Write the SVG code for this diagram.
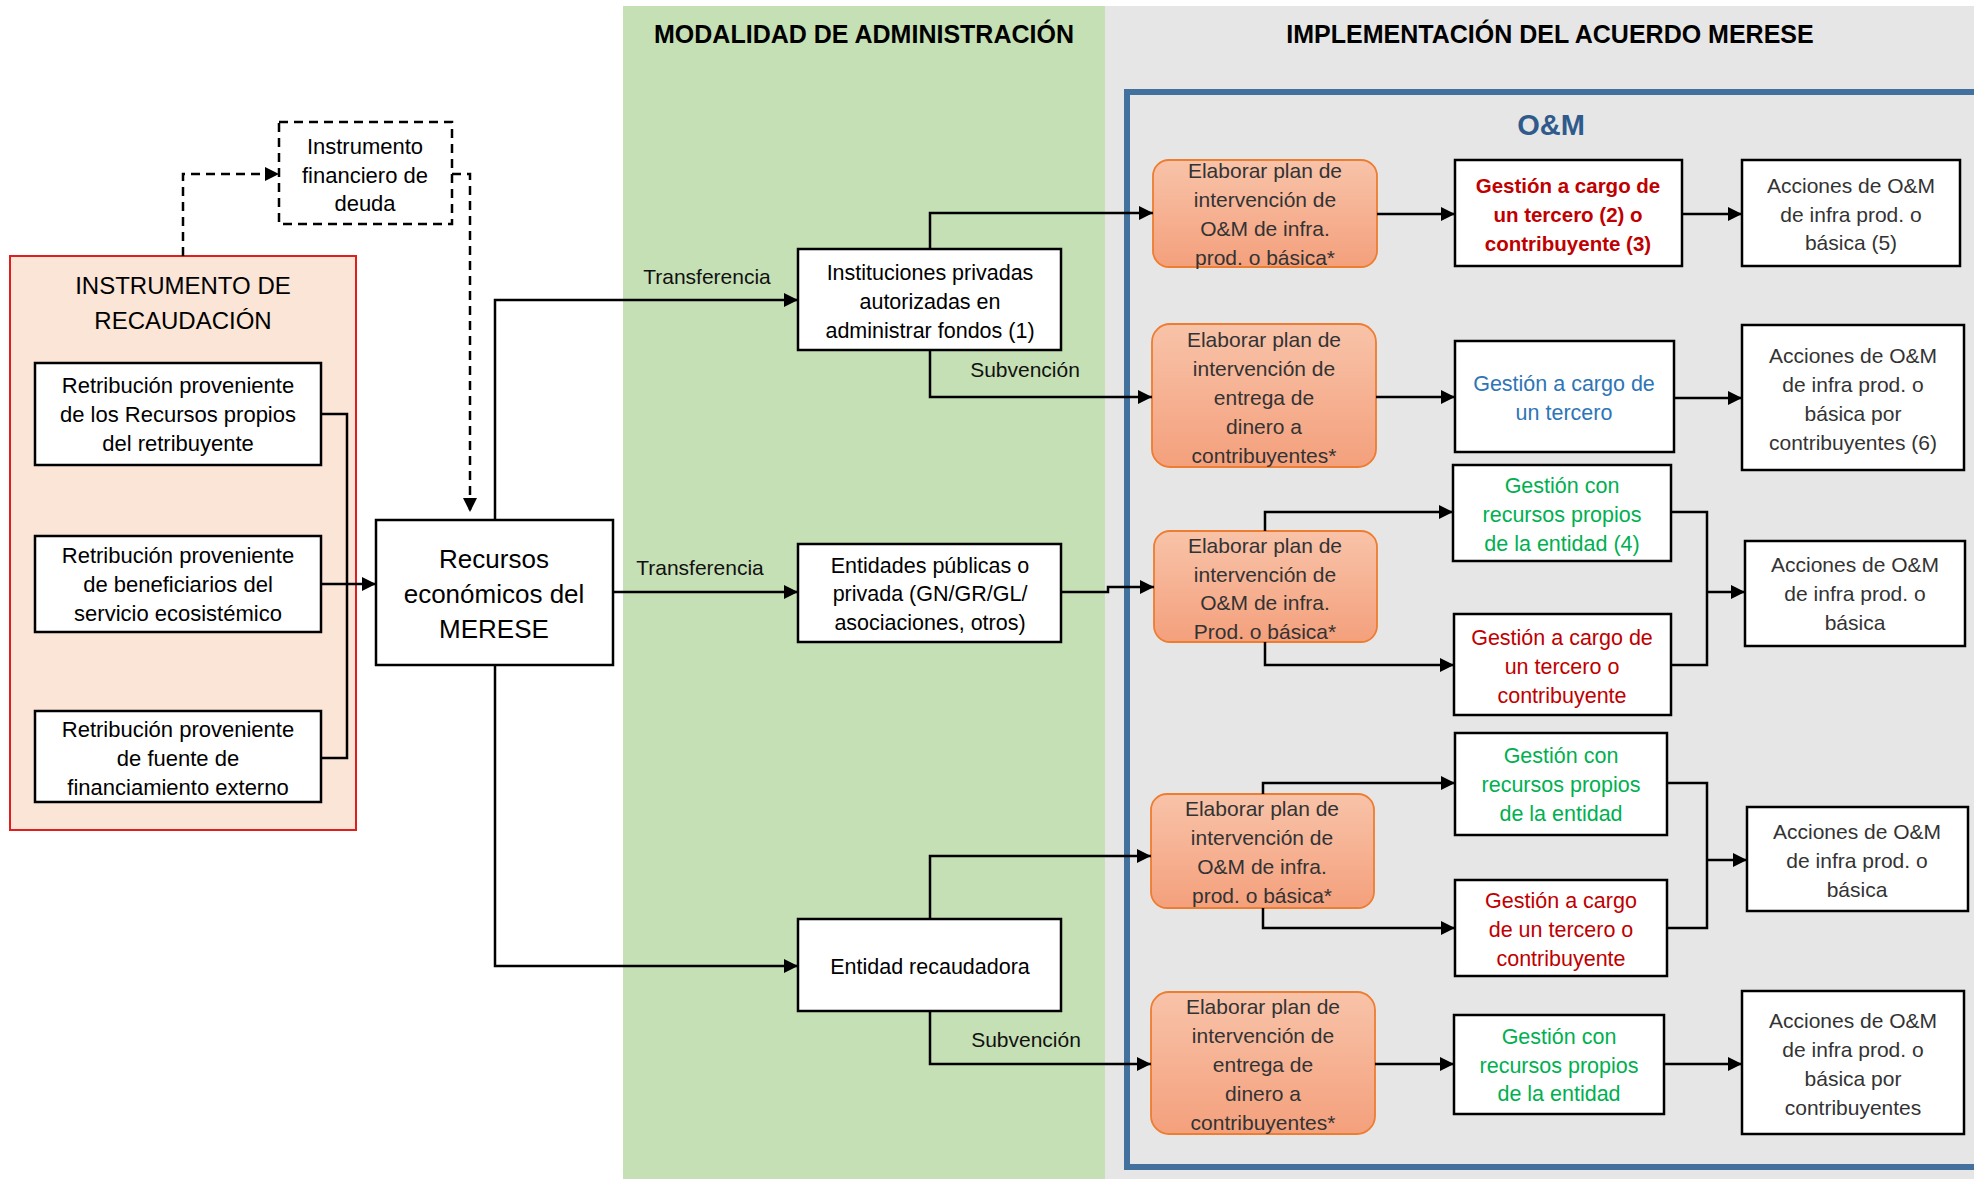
<svg xmlns="http://www.w3.org/2000/svg" width="1974" height="1179" viewBox="0 0 1974 1179">
<defs>
<linearGradient id="og" x1="0" y1="0" x2="0" y2="1">
<stop offset="0" stop-color="#F8C3A9"/>
<stop offset="1" stop-color="#F4A07C"/>
</linearGradient>
<marker id="ah" markerUnits="userSpaceOnUse" markerWidth="14" markerHeight="14" viewBox="0 0 14 14" refX="14" refY="7" orient="auto">
<path d="M0,0 L14,7 L0,14 z" fill="#000"/>
</marker>
</defs>
<style>
text{font-family:"Liberation Sans",Arial,sans-serif;text-anchor:middle;fill:#000}
.box{fill:#fff;stroke:#000;stroke-width:2.5}
.ob{fill:url(#og);stroke:#ED7D31;stroke-width:1.8}
.t22{font-size:22px}
.t21{font-size:21.5px}
.lt{font-size:21px;fill:#333}
.lbl{font-size:21px;fill:#111}
.hdr{font-size:25px;font-weight:bold}
.red{fill:#C00000}
.redb{fill:#C00000;font-weight:bold}
.blue{fill:#2E75B6}
.green{fill:#00B050}
.conn path{fill:none;stroke:#000;stroke-width:2.5}
.arr{marker-end:url(#ah)}
.dash{stroke-dasharray:9,6}
</style>
<rect x="0" y="0" width="1974" height="1179" fill="#fff"/>
<rect id="bg-modalidad" x="623" y="6" width="482" height="1173" fill="#C5E0B4"/>
<rect id="bg-impl" x="1105" y="6" width="869" height="1173" fill="#E7E6E6"/>
<text class="hdr" x="864" y="43">MODALIDAD DE ADMINISTRACIÓN</text>
<text class="hdr" x="1550" y="43">IMPLEMENTACIÓN DEL ACUERDO MERESE</text>
<g id="om-frame">
<rect x="1127" y="92" width="900" height="1075" fill="none" stroke="#41719C" stroke-width="6"/>
<text x="1551" y="135" font-size="29" font-weight="bold" fill="#2F5B8C" style="fill:#2F5B8C">O&amp;M</text>
</g>
<g id="instrumento-recaudacion">
<rect x="10" y="256" width="346" height="574" fill="#FBE5D6" stroke="#E01E1E" stroke-width="2"/>
<text x="183" y="294" font-size="24">INSTRUMENTO DE</text>
<text x="183" y="329" font-size="24">RECAUDACIÓN</text>
</g>
<g id="retrib-propios">
<rect class="box" x="35" y="363" width="286" height="102"/>
<text class="t22" x="178"><tspan x="178" y="393">Retribución proveniente</tspan><tspan x="178" y="422">de los Recursos  propios</tspan><tspan x="178" y="451">del retribuyente</tspan></text>
</g>
<g id="retrib-beneficiarios">
<rect class="box" x="35" y="536" width="286" height="96"/>
<text class="t22" x="178"><tspan x="178" y="563">Retribución proveniente</tspan><tspan x="178" y="592">de beneficiarios del</tspan><tspan x="178" y="621">servicio ecosistémico</tspan></text>
</g>
<g id="retrib-externo">
<rect class="box" x="35" y="711" width="286" height="91"/>
<text class="t22" x="178"><tspan x="178" y="737">Retribución proveniente</tspan><tspan x="178" y="766">de fuente de</tspan><tspan x="178" y="795">financiamiento externo</tspan></text>
</g>
<g id="instrumento-deuda">
<rect x="279" y="122" width="173" height="102" fill="#fff" stroke="#000" stroke-width="2.5" stroke-dasharray="9,6"/>
<text class="t22" x="365"><tspan x="365" y="154">Instrumento</tspan><tspan x="365" y="183">financiero de</tspan><tspan x="365" y="211">deuda</tspan></text>
</g>
<g id="recursos-merese">
<rect class="box" x="376" y="520" width="237" height="145"/>
<text font-size="26" x="494"><tspan x="494" y="568">Recursos</tspan><tspan x="494" y="603">económicos del</tspan><tspan x="494" y="638">MERESE</tspan></text>
</g>
<g id="instituciones-privadas">
<rect class="box" x="798" y="249" width="263" height="101"/>
<text class="t21" x="930"><tspan x="930" y="280">Instituciones privadas</tspan><tspan x="930" y="309">autorizadas en</tspan><tspan x="930" y="338">administrar fondos (1)</tspan></text>
</g>
<g id="entidades-publicas">
<rect class="box" x="798" y="544" width="263" height="98"/>
<text class="t21" x="930"><tspan x="930" y="573">Entidades públicas o</tspan><tspan x="930" y="601">privada (GN/GR/GL/</tspan><tspan x="930" y="630">asociaciones, otros)</tspan></text>
</g>
<g id="entidad-recaudadora">
<rect class="box" x="798" y="919" width="263" height="92"/>
<text class="t21" x="930" y="974">Entidad recaudadora</text>
</g>
<g id="plan-1">
<rect class="ob" x="1153" y="160" width="224" height="107" rx="16"/>
<text class="lt" x="1265"><tspan x="1265" y="178">Elaborar plan de</tspan><tspan x="1265" y="207">intervención de</tspan><tspan x="1265" y="236">O&amp;M de infra.</tspan><tspan x="1265" y="265">prod. o básica*</tspan></text>
</g>
<g id="plan-2">
<rect class="ob" x="1152" y="324" width="224" height="143" rx="18"/>
<text class="lt" x="1264"><tspan x="1264" y="347">Elaborar plan de</tspan><tspan x="1264" y="376">intervención de</tspan><tspan x="1264" y="405">entrega de</tspan><tspan x="1264" y="434">dinero a</tspan><tspan x="1264" y="463">contribuyentes*</tspan></text>
</g>
<g id="plan-3">
<rect class="ob" x="1154" y="531" width="223" height="111" rx="16"/>
<text class="lt" x="1265"><tspan x="1265" y="553">Elaborar plan de</tspan><tspan x="1265" y="582">intervención  de</tspan><tspan x="1265" y="610">O&amp;M de infra.</tspan><tspan x="1265" y="639">Prod. o básica*</tspan></text>
</g>
<g id="plan-4">
<rect class="ob" x="1151" y="794" width="223" height="114" rx="16"/>
<text class="lt" x="1262"><tspan x="1262" y="816">Elaborar plan de</tspan><tspan x="1262" y="845">intervención de</tspan><tspan x="1262" y="874">O&amp;M de infra.</tspan><tspan x="1262" y="903">prod. o básica*</tspan></text>
</g>
<g id="plan-5">
<rect class="ob" x="1151" y="992" width="224" height="142" rx="18"/>
<text class="lt" x="1263"><tspan x="1263" y="1014">Elaborar plan de</tspan><tspan x="1263" y="1043">intervención de</tspan><tspan x="1263" y="1072">entrega de</tspan><tspan x="1263" y="1101">dinero a</tspan><tspan x="1263" y="1130">contribuyentes*</tspan></text>
</g>
<g id="gestion-1">
<rect class="box" x="1455" y="160" width="227" height="106"/>
<text class="t21 redb" font-size="20.5" x="1568" style="font-size:20.5px"><tspan x="1568" y="193">Gestión a cargo de</tspan><tspan x="1568" y="222">un tercero (2) o</tspan><tspan x="1568" y="251">contribuyente (3)</tspan></text>
</g>
<g id="gestion-2">
<rect class="box" x="1455" y="341" width="219" height="111"/>
<text class="t21 blue" x="1564"><tspan x="1564" y="391">Gestión a cargo de</tspan><tspan x="1564" y="420">un tercero</tspan></text>
</g>
<g id="gestion-3">
<rect class="box" x="1453" y="465" width="218" height="96"/>
<text class="t21 green" x="1562"><tspan x="1562" y="493">Gestión con</tspan><tspan x="1562" y="522">recursos propios</tspan><tspan x="1562" y="551">de la entidad (4)</tspan></text>
</g>
<g id="gestion-4">
<rect class="box" x="1454" y="614" width="217" height="101"/>
<text class="t21 red" x="1562"><tspan x="1562" y="645">Gestión a cargo de</tspan><tspan x="1562" y="674">un tercero o</tspan><tspan x="1562" y="703">contribuyente</tspan></text>
</g>
<g id="gestion-5">
<rect class="box" x="1455" y="733" width="212" height="102"/>
<text class="t21 green" x="1561"><tspan x="1561" y="763">Gestión con</tspan><tspan x="1561" y="792">recursos propios</tspan><tspan x="1561" y="821">de la entidad</tspan></text>
</g>
<g id="gestion-6">
<rect class="box" x="1455" y="880" width="212" height="96"/>
<text class="t21 red" x="1561"><tspan x="1561" y="908">Gestión a cargo</tspan><tspan x="1561" y="937">de un tercero o</tspan><tspan x="1561" y="966">contribuyente</tspan></text>
</g>
<g id="gestion-7">
<rect class="box" x="1454" y="1015" width="210" height="99"/>
<text class="t21 green" x="1559"><tspan x="1559" y="1044">Gestión con</tspan><tspan x="1559" y="1073">recursos propios</tspan><tspan x="1559" y="1101">de la entidad</tspan></text>
</g>
<g id="acciones-1">
<rect class="box" x="1742" y="160" width="218" height="106"/>
<text class="lt" x="1851"><tspan x="1851" y="193">Acciones de O&amp;M</tspan><tspan x="1851" y="222">de infra prod. o</tspan><tspan x="1851" y="250">básica (5)</tspan></text>
</g>
<g id="acciones-2">
<rect class="box" x="1742" y="325" width="222" height="145"/>
<text class="lt" x="1853"><tspan x="1853" y="363">Acciones de O&amp;M</tspan><tspan x="1853" y="392">de infra prod. o</tspan><tspan x="1853" y="421">básica por</tspan><tspan x="1853" y="450">contribuyentes (6)</tspan></text>
</g>
<g id="acciones-3">
<rect class="box" x="1745" y="541" width="220" height="105"/>
<text class="lt" x="1855"><tspan x="1855" y="572">Acciones de O&amp;M</tspan><tspan x="1855" y="601">de infra prod. o</tspan><tspan x="1855" y="630">básica</tspan></text>
</g>
<g id="acciones-4">
<rect class="box" x="1747" y="807" width="221" height="104"/>
<text class="lt" x="1857"><tspan x="1857" y="839">Acciones de O&amp;M</tspan><tspan x="1857" y="868">de infra prod. o</tspan><tspan x="1857" y="897">básica</tspan></text>
</g>
<g id="acciones-5">
<rect class="box" x="1742" y="991" width="222" height="143"/>
<text class="lt" x="1853"><tspan x="1853" y="1028">Acciones de O&amp;M</tspan><tspan x="1853" y="1057">de infra prod. o</tspan><tspan x="1853" y="1086">básica por</tspan><tspan x="1853" y="1115">contribuyentes</tspan></text>
</g>
<g id="connectors" class="conn">
<path d="M321,414 H347 V758 H321"/>
<path class="arr" d="M321,584 H376"/>
<path class="arr dash" d="M183,256 V174 H279"/>
<path class="arr dash" d="M452,174 H470 V512"/>
<path class="arr" d="M495,520 V300 H798"/>
<path class="arr" d="M613,592 H798"/>
<path class="arr" d="M495,665 V966 H798"/>
<path class="arr" d="M930,249 V213 H1153"/>
<path class="arr" d="M930,350 V397 H1152"/>
<path class="arr" d="M1061,592 H1108 V587 H1154"/>
<path class="arr" d="M930,919 V856 H1151"/>
<path class="arr" d="M930,1011 V1064 H1151"/>
<path class="arr" d="M1377,214 H1455"/>
<path class="arr" d="M1682,214 H1742"/>
<path class="arr" d="M1376,397 H1455"/>
<path class="arr" d="M1674,398 H1742"/>
<path class="arr" d="M1265,531 V512 H1453"/>
<path class="arr" d="M1265,642 V665 H1454"/>
<path d="M1671,512 H1707 V665 H1671"/>
<path class="arr" d="M1707,592 H1745"/>
<path class="arr" d="M1263,794 V783 H1455"/>
<path class="arr" d="M1263,908 V928 H1455"/>
<path d="M1667,783 H1707 V928 H1667"/>
<path class="arr" d="M1707,860 H1747"/>
<path class="arr" d="M1375,1064 H1454"/>
<path class="arr" d="M1664,1064 H1742"/>
<text class="lbl" x="707" y="284">Transferencia</text>
<text class="lbl" x="700" y="575">Transferencia</text>
<text class="lbl" x="1025" y="377">Subvención</text>
<text class="lbl" x="1026" y="1047">Subvención</text>
</g>
</svg>
